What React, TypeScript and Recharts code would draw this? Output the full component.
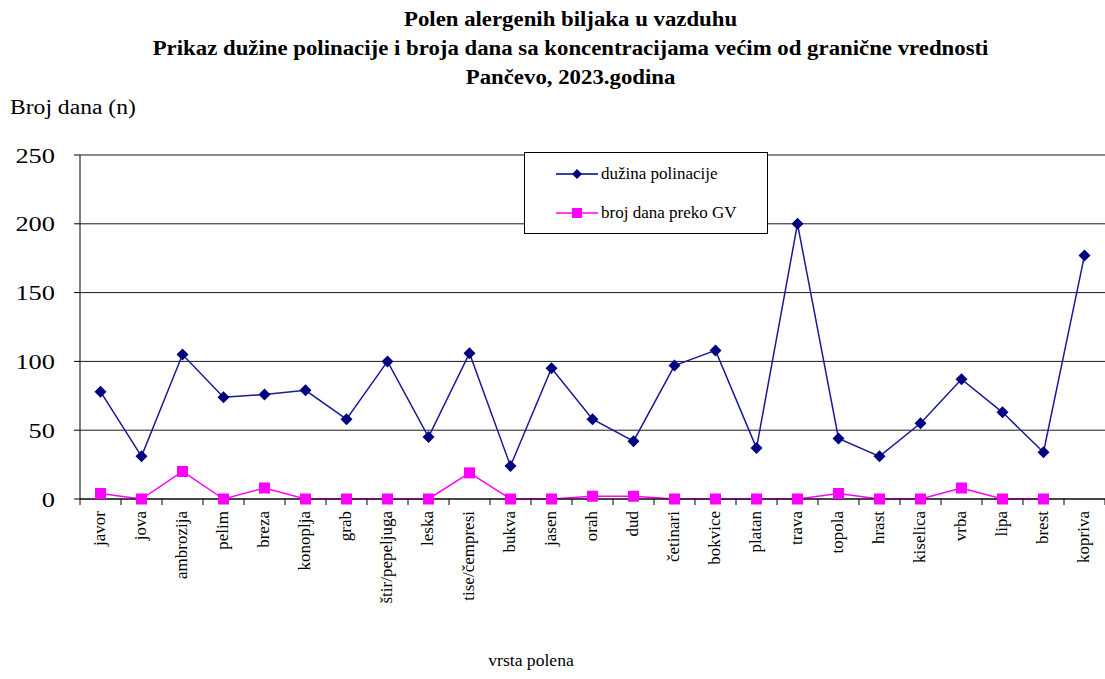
import React from 'react'
import { LineChart, Line, XAxis, YAxis, CartesianGrid } from 'recharts'

const CATEGORIES = [
  'javor', 'jova', 'ambrozija', 'pelim', 'breza', 'konoplja', 'grab', 'štir/pepeljuga',
  'leska', 'tise/čempresi', 'bukva', 'jasen', 'orah', 'dud', 'četinari', 'bokvice',
  'platan', 'trava', 'topola', 'hrast', 'kiselica', 'vrba', 'lipa', 'brest', 'kopriva',
]
const POLLINATION_DAYS = [
  78, 31, 105, 74, 76, 79, 58, 100, 45, 106, 24, 95, 58, 42, 97, 108, 37, 200, 44, 31, 55, 87, 63, 34, 177,
]
const DAYS_OVER_LIMIT: (number | null)[] = [
  4, 0, 20, 0, 8, 0, 0, 0, 0, 19, 0, 0, 2, 2, 0, 0, 0, 0, 4, 0, 0, 8, 0, 0, null,
]
const Y_TICKS = [0, 50, 100, 150, 200, 250]

const SERIES_BLUE = 'dužina polinacije'
const SERIES_PINK = 'broj dana preko GV'

const CHART_W = 1105
const CHART_H = 679
const Y_AXIS_W = 80
const BAND = (CHART_W - Y_AXIS_W) / CATEGORIES.length
const FONT = '"Liberation Serif", "Times New Roman", serif'

const data = CATEGORIES.map((name, i) => ({
  name,
  duzina: POLLINATION_DAYS[i],
  gv: DAYS_OVER_LIMIT[i],
}))

function Diamond(props: any) {
  const { cx, cy, index } = props
  if (cx == null || cy == null) return <g key={`d-${index}`} />
  const r = 6
  return (
    <polygon
      key={`d-${index}`}
      points={`${cx},${cy - r} ${cx + r},${cy} ${cx},${cy + r} ${cx - r},${cy}`}
      fill="#000080"
    />
  )
}

function Square(props: any) {
  const { cx, cy, index, value } = props
  if (cx == null || cy == null || value == null) return <g key={`s-${index}`} />
  const s = 5.5
  return <rect key={`s-${index}`} x={cx - s} y={cy - s} width={s * 2} height={s * 2} fill="#FF00FF" />
}

function CategoryTick(props: any) {
  const { x, y, payload, index } = props
  const axisY = y - 8
  const last = index === CATEGORIES.length - 1
  return (
    <g>
      <line x1={x - BAND / 2} x2={x - BAND / 2} y1={axisY} y2={axisY + 6} stroke="#000" />
      {last && <line x1={x + BAND / 2} x2={x + BAND / 2} y1={axisY} y2={axisY + 6} stroke="#000" />}
      <text
        x={0}
        y={0}
        transform={`translate(${x + 4},${y + 4}) rotate(-90)`}
        textAnchor="end"
        fontSize={17}
        fontFamily={FONT}
        fill="#000"
      >
        {payload.value}
      </text>
    </g>
  )
}

function ValueTick(props: any) {
  const { x, y, payload } = props
  return (
    <text
      x={0}
      y={0}
      transform={`translate(${x},${y}) scale(1.2,1)`}
      textAnchor="end"
      dominantBaseline="central"
      fontSize={22}
      fontFamily={FONT}
      fill="#000"
    >
      {payload.value}
    </text>
  )
}

function LegendBox() {
  const row = (color: string, label: string, marker: React.ReactNode) => (
    <div style={{ display: 'flex', alignItems: 'center', height: 39 }}>
      <svg width={76} height={14} style={{ display: 'block' }}>
        <line x1={31} x2={73} y1={7} y2={7} stroke={color} strokeWidth={1.5} />
        {marker}
      </svg>
      <span style={{ fontSize: 17, fontFamily: FONT, color: '#000' }}>{label}</span>
    </div>
  )
  return (
    <div
      style={{
        position: 'absolute',
        left: 524,
        top: 152,
        width: 244,
        height: 82,
        border: '1px solid #000',
        background: '#fff',
        boxSizing: 'border-box',
        paddingTop: 1,
        zIndex: 3,
      }}
    >
      {row('#000080', SERIES_BLUE, <polygon points="52,2 57,7 52,12 47,7" fill="#000080" />)}
      {row('#FF00FF', SERIES_PINK, <rect x={47} y={2} width={10} height={10} fill="#FF00FF" />)}
    </div>
  )
}

export default function App() {
  return (
    <div
      style={{
        position: 'absolute',
        left: 0,
        top: 0,
        width: CHART_W,
        height: CHART_H,
        background: '#fff',
        fontFamily: FONT,
        color: '#000',
      }}
    >
      <div
        style={{
          position: 'absolute',
          top: 5,
          left: 18,
          width: CHART_W,
          textAlign: 'center',
          fontWeight: 700,
          fontSize: 20,
          lineHeight: '29px',
          transform: 'scaleX(1.14)',
          transformOrigin: '552px 0',
          zIndex: 2,
        }}
      >
        <div>Polen alergenih biljaka u vazduhu</div>
        <div>Prikaz dužine polinacije i broja dana sa koncentracijama većim od granične vrednosti</div>
        <div>Pančevo, 2023.godina</div>
      </div>
      <div
        style={{
          position: 'absolute',
          left: 10,
          top: 96,
          fontSize: 20,
          transform: 'scaleX(1.18)',
          transformOrigin: '0 0',
          zIndex: 2,
        }}
      >
        Broj dana (n)
      </div>
      <div
        style={{
          position: 'absolute',
          left: 0,
          width: 1062,
          top: 652,
          textAlign: 'center',
          fontSize: 16,
          transform: 'scaleX(1.1)',
          transformOrigin: '531px 0',
          zIndex: 2,
        }}
      >
        vrsta polena
      </div>
      <LegendBox />
      <LineChart
        width={CHART_W}
        height={CHART_H}
        data={data}
        margin={{ top: 155, right: 0, bottom: 60, left: 0 }}
      >
        <CartesianGrid vertical={false} stroke="#000" strokeOpacity={0.9} />
        <XAxis
          dataKey="name"
          interval={0}
          height={120}
          padding={{ left: BAND / 2, right: BAND / 2 }}
          axisLine={{ stroke: '#000' }}
          tickLine={false}
          tickSize={6}
          tickMargin={2}
          tick={CategoryTick}
        />
        <YAxis
          width={Y_AXIS_W}
          domain={[0, 250]}
          ticks={Y_TICKS}
          interval={0}
          axisLine={{ stroke: '#000' }}
          tickLine={{ stroke: '#000' }}
          tickSize={6}
          tickMargin={19}
          tick={ValueTick}
        />
        <Line
          name={SERIES_PINK}
          dataKey="gv"
          stroke="#FF00FF"
          strokeWidth={1.5}
          dot={Square}
          activeDot={false}
          isAnimationActive={false}
        />
        <Line
          name={SERIES_BLUE}
          dataKey="duzina"
          stroke="#1a1a99"
          strokeWidth={1.5}
          dot={Diamond}
          activeDot={false}
          isAnimationActive={false}
        />
      </LineChart>
    </div>
  )
}
